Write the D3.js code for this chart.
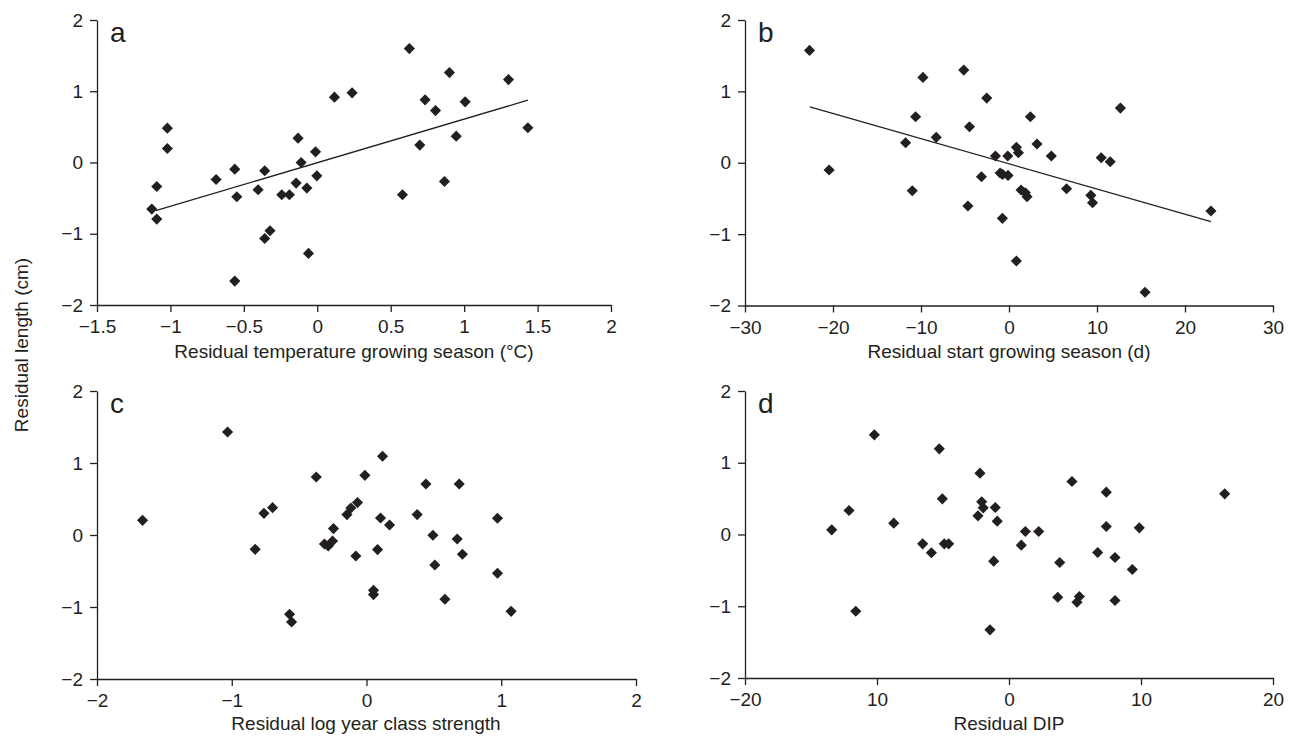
<!DOCTYPE html>
<html><head><meta charset="utf-8">
<script src="https://cdn.jsdelivr.net/npm/d3@7"></script>
<style>
body{margin:0;background:#fff;}
svg{display:block;font-family:"Liberation Sans",Arial,Helvetica,sans-serif;}
</style></head>
<body><svg id="c" width="1293" height="740"></svg>
<script>
// Panel a: residual temperature growing season (°C) vs residual length (cm)
const aX = [-1.127,-1.093,-1.093,-1.021,-1.021,-0.689,-0.562,-0.548,-0.562,-0.403,-0.358,-0.358,-0.322,-0.242,-0.190,-0.144,-0.131,-0.110,-0.071,-0.060,-0.012,-0.003,0.117,0.237,0.627,0.900,1.302,0.734,0.805,1.007,1.434,0.946,0.698,0.866,0.580];
const aY = [-0.654,-0.794,-0.337,0.482,0.196,-0.238,-0.093,-0.481,-1.664,-0.383,-0.116,-1.066,-0.958,-0.453,-0.453,-0.289,0.342,0.000,-0.359,-1.276,0.150,-0.187,0.917,0.978,1.599,1.262,1.164,0.879,0.729,0.851,0.488,0.370,0.244,-0.266,-0.453];
const aFit = [[-1.10,-0.677],[1.434,0.875]];

// Panel b: residual start growing season (d)
const bX = [-22.67,-20.44,-11.75,-10.61,-9.78,-10.99,-8.27,-5.14,-4.49,-4.67,-2.53,2.43,12.66,3.18,0.84,1.07,-1.54,-0.14,4.81,10.48,11.50,-3.13,-1.01,-0.72,-0.11,1.37,1.86,2.05,6.54,9.30,9.49,-0.75,0.84,15.46,22.95];
const bY = [1.574,-0.102,0.280,0.644,1.196,-0.392,0.356,1.298,0.504,-0.606,0.906,0.644,0.766,0.262,0.216,0.140,0.094,0.094,0.094,0.070,0.014,-0.196,-0.144,-0.163,-0.177,-0.382,-0.420,-0.476,-0.364,-0.457,-0.560,-0.779,-1.377,-1.815,-0.676];
const bFit = [[-22.63,0.784],[22.95,-0.826]];

// Panel c: residual log year class strength
const cX = [-1.662,-1.031,-0.373,-0.761,-0.697,-0.826,-0.571,-0.556,-0.245,-0.312,-0.284,-0.252,-0.145,-0.116,-0.067,-0.079,0.119,-0.012,0.104,0.171,0.376,0.441,0.688,0.972,0.493,0.673,0.712,0.082,0.507,0.972,0.052,0.052,0.582,1.073];
const cY = [0.204,1.431,0.806,0.301,0.380,-0.199,-1.101,-1.208,0.089,-0.125,-0.153,-0.083,0.283,0.375,0.450,-0.292,1.093,0.829,0.236,0.139,0.283,0.708,0.708,0.232,-0.004,-0.056,-0.268,-0.203,-0.417,-0.532,-0.768,-0.828,-0.893,-1.060];

// Panel d: residual DIP
const dX = [-13.43,-12.12,-11.61,-10.20,-8.73,-6.54,-5.88,-5.28,-5.05,-4.90,-4.57,-2.20,-2.07,-1.95,-1.04,-2.35,-0.89,-1.16,-1.44,1.24,2.25,0.93,4.77,7.37,16.34,7.37,9.87,6.72,8.03,3.84,9.34,3.69,5.33,5.15,8.03];
const dY = [0.065,0.334,-1.069,1.389,0.158,-0.130,-0.255,1.194,0.497,-0.130,-0.130,0.855,0.455,0.372,0.376,0.260,0.186,-0.372,-1.329,0.042,0.042,-0.149,0.739,0.590,0.567,0.111,0.093,-0.251,-0.321,-0.390,-0.488,-0.874,-0.864,-0.943,-0.920];

// Tick values and labels
const yTicks = [-2,-1,0,1,2];
const yTickLabels = ["\u22122","\u22121","0","1","2"];
const aXTicks = [-1.5,-1,-0.5,0,0.5,1,1.5,2];
const aXTickLabels = ["\u22121.5","\u22121","\u22120.5","0","0.5","1","1.5","2"];
const bXTicks = [-30,-20,-10,0,10,20,30];
const bXTickLabels = ["\u221230","\u221220","\u221210","0","10","20","30"];
const cXTicks = [-2,-1,0,1,2];
const cXTickLabels = ["\u22122","\u22121","0","1","2"];
const dXTicks = [-20,-10,0,10,20];
const dXTickLabels = ["\u221220","10","0","10","20"];

const ink = "#231f20";
const svg = d3.select("#c");

const panels = [
  {letter:"a", xs:aX, ys:aY, fit:aFit, xd:[-1.5,2], xr:[97,611], yr:[305,20], xt:aXTicks, xl:aXTickLabels,
   title:"Residual temperature growing season (\u00B0C)", tx:354, ty:358},
  {letter:"b", xs:bX, ys:bY, fit:bFit, xd:[-30,30], xr:[745,1273], yr:[305.5,20], xt:bXTicks, xl:bXTickLabels,
   title:"Residual start growing season (d)", tx:1009, ty:358},
  {letter:"c", xs:cX, ys:cY, fit:null, xd:[-2,2], xr:[97,636], yr:[679,391], xt:cXTicks, xl:cXTickLabels,
   title:"Residual log year class strength", tx:366, ty:730},
  {letter:"d", xs:dX, ys:dY, fit:null, xd:[-20,20], xr:[745,1273], yr:[678,391], xt:dXTicks, xl:dXTickLabels,
   title:"Residual DIP", tx:1009, ty:730}
];

const diamond = d3.symbol().type(d3.symbolSquare).size(62);

panels.forEach(p => {
  const x = d3.scaleLinear().domain(p.xd).range(p.xr);
  const y = d3.scaleLinear().domain([-2,2]).range(p.yr);
  const g = svg.append("g");

  const xa = g.append("g").attr("transform",`translate(0,${p.yr[0]})`)
    .call(d3.axisBottom(x).tickValues(p.xt).tickFormat((d,i)=>p.xl[i]).tickSize(7).tickSizeOuter(0).tickPadding(8));
  const ya = g.append("g").attr("transform",`translate(${p.xr[0]},0)`)
    .call(d3.axisLeft(y).tickValues(yTicks).tickFormat((d,i)=>yTickLabels[i]).tickSize(7).tickSizeOuter(0).tickPadding(7));
  [xa,ya].forEach(a=>{
    a.selectAll("path,line").attr("stroke",ink).attr("stroke-width",1.3);
    a.selectAll("text").attr("fill",ink).style("font-size","19px");
  });

  if (p.fit) {
    g.append("path").datum(p.fit)
      .attr("d", d3.line().x(d=>x(d[0])).y(d=>y(d[1])))
      .attr("fill","none").attr("stroke",ink).attr("stroke-width",1.3);
  }

  g.selectAll("path.pt").data(p.xs.map((v,i)=>[v,p.ys[i]])).join("path")
    .attr("class","pt")
    .attr("d", diamond)
    .attr("transform", d=>`translate(${x(d[0])},${y(d[1])}) rotate(45)`)
    .attr("fill", ink);

  g.append("text").attr("x", p.xr[0]+13).attr("y", p.yr[1]+22)
    .attr("fill",ink).style("font-size","28px").text(p.letter);

  g.append("text").attr("x", p.tx).attr("y", p.ty).attr("text-anchor","middle")
    .attr("fill",ink).style("font-size","19px").text(p.title);
});

svg.append("text").attr("transform","translate(28,345) rotate(-90)")
  .attr("text-anchor","middle").attr("fill",ink).style("font-size","19px")
  .text("Residual length (cm)");
</script></body></html>
